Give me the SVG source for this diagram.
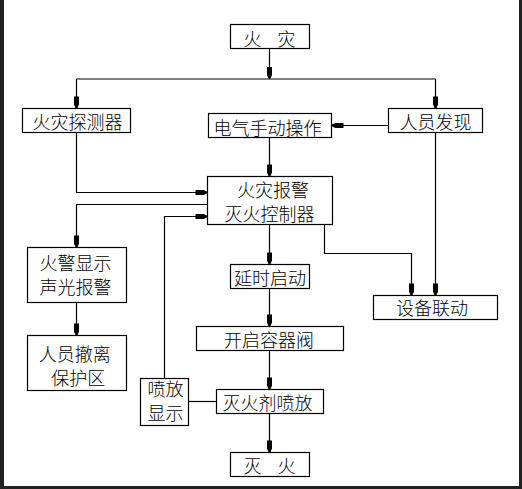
<svg xmlns="http://www.w3.org/2000/svg" width="522" height="489" viewBox="0 0 522 489">
<defs>
<style>
.box{fill:#fff;stroke:#000;stroke-width:1.2}
.ln{fill:none;stroke:#000;stroke-width:1.2}
.ar{marker-end:url(#ah)}
text{font-family:"Noto Sans CJK SC","Noto Sans",sans-serif;font-size:18px;font-weight:300;fill:#000;text-anchor:middle;dominant-baseline:central}
</style>
<marker id="ah" markerUnits="userSpaceOnUse" markerWidth="14" markerHeight="8" viewBox="0 -4 13 8" refX="12" refY="0" orient="auto">
<path d="M0,-2.5 L8,-2.5 L11,-1.2 L12,0 L11,1.2 L8,2.5 L0,2.5 Z" fill="#000"/>
</marker>
</defs>
<rect x="0" y="0" width="522" height="489" fill="#fff"/>
<path d="M0,0 H4 V486 H519 V0 H522 V489 H0 Z" fill="#222"/>
<g id="connectors">
<path class="ln ar" d="M269.5,48 V79"/>
<path class="ln" d="M76.5,79 H435.5"/>
<path class="ln ar" d="M76.5,79 V108.5"/>
<path class="ln ar" d="M435.5,79 V108.5"/>
<path class="ln ar" d="M388.5,125.5 H331.5"/>
<path class="ln ar" d="M269.5,137.5 V176.5"/>
<path class="ln ar" d="M76.5,132.5 V192.5 H207.5"/>
<path class="ln ar" d="M207.5,204.5 H76.5 V247.5"/>
<path class="ln ar" d="M164.5,378.5 V216.5 H207.5"/>
<path class="ln ar" d="M269.5,224.5 V264.5"/>
<path class="ln ar" d="M324.5,224.5 V253.5 H411.5 V295.5"/>
<path class="ln ar" d="M435.5,132.5 V295.5"/>
<path class="ln ar" d="M76.5,302.5 V335.5"/>
<path class="ln ar" d="M269.5,288.5 V326.5"/>
<path class="ln ar" d="M269.5,350.5 V389.5"/>
<path class="ln" d="M188.5,401.5 H216.5"/>
<path class="ln ar" d="M269.5,413.5 V452.5"/>
</g>
<g id="fire"><rect class="box" x="230.5" y="24.5" width="79" height="24"/><text x="269.5" y="38" word-spacing="12">火 灾</text></g>
<g id="detector"><rect class="box" x="22.5" y="108.5" width="108" height="24"/><text x="77.5" y="120.5">火灾探测器</text></g>
<g id="manual"><rect class="box" x="208.5" y="113.5" width="123" height="24"/><text x="267.5" y="126.5" font-size="19">电气手动操作</text></g>
<g id="person"><rect class="box" x="388.5" y="108.5" width="94" height="24"/><text x="435.5" y="120.5">人员发现</text></g>
<g id="controller"><rect class="box" x="207.5" y="176.5" width="125" height="48"/><text x="273" y="188.5">火灾报警</text><text x="269.5" y="212.5">灭火控制器</text></g>
<g id="alarm"><rect class="box" x="27.5" y="247.5" width="99" height="55"/><text x="75.5" y="261.5">火警显示</text><text x="75.5" y="285.5">声光报警</text></g>
<g id="evacuate"><rect class="box" x="27.5" y="335.5" width="99" height="55"/><text x="74.7" y="352.5">人员撤离</text><text x="78.3" y="376.5">保护区</text></g>
<g id="delay"><rect class="box" x="230.5" y="264.5" width="79" height="24"/><text x="270" y="276.5">延时启动</text></g>
<g id="valve"><rect class="box" x="196.5" y="326.5" width="147" height="24"/><text x="269" y="339">开启容器阀</text></g>
<g id="spray"><rect class="box" x="216.5" y="389.5" width="107" height="24"/><text x="267.5" y="401.5">灭火剂喷放</text></g>
<g id="spraydisplay"><rect class="box" x="140.5" y="378.5" width="48" height="47"/><text x="165.5" y="387.5">喷放</text><text x="165.5" y="411.5">显示</text></g>
<g id="linkage"><rect class="box" x="373.5" y="295.5" width="124" height="24"/><text x="432" y="306.5">设备联动</text></g>
<g id="extinguish"><rect class="box" x="230.5" y="452.5" width="79" height="24"/><text x="269.5" y="464.5" word-spacing="12">灭 火</text></g>
</svg>
